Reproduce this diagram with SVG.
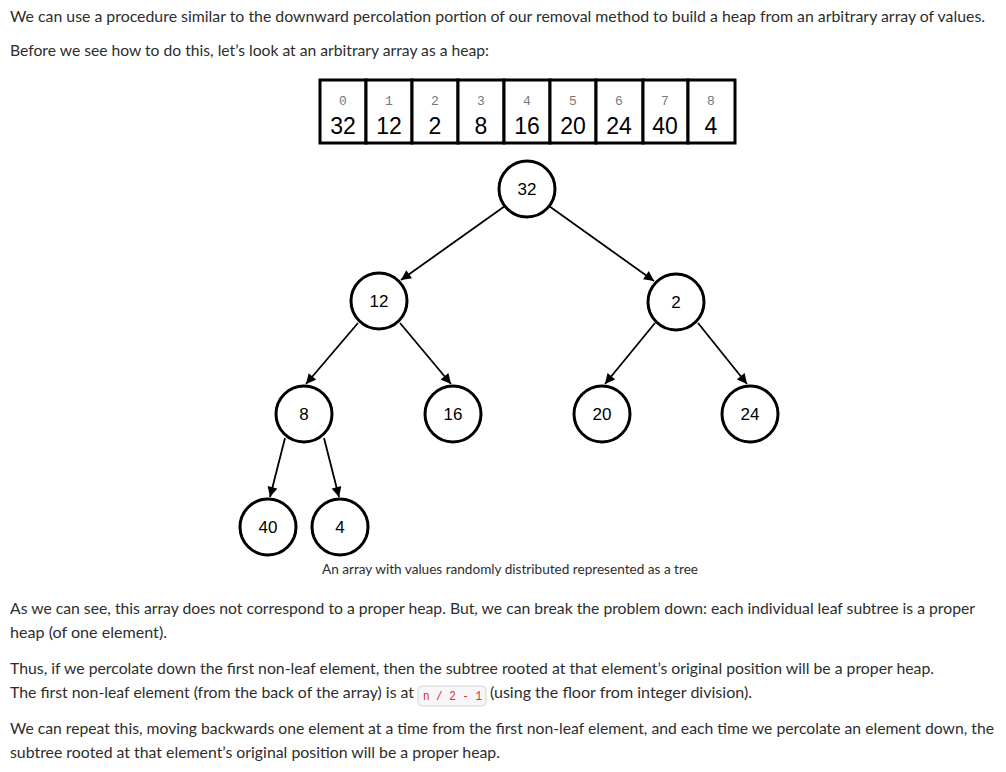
<svg xmlns="http://www.w3.org/2000/svg" width="1006" height="772" viewBox="0 0 1006 772">
  <style>
    .body { font-family: Lato, "Open Sans", sans-serif; font-size: 15.7px; fill: #2d2d2d; }
    .caption { font-family: Lato, "Open Sans", sans-serif; font-size: 13.5px; fill: #2d2d2d; }
    .cell { fill: #fff; stroke: #000; stroke-width: 3; }
    .idx { font-family: "Liberation Mono", monospace; font-size: 13px; fill: #777; text-anchor: middle; }
    .val { font-family: "Liberation Sans", Arial, sans-serif; font-size: 23px; fill: #000; text-anchor: middle; }
    .node circle { fill: #fff; stroke: #000; stroke-width: 3; }
    .node text { font-family: "Liberation Sans", Arial, sans-serif; font-size: 17px; fill: #000; text-anchor: middle; }
    .edge { stroke: #000; stroke-width: 1.8; fill: none; marker-end: url(#arrow); }
    .code-bg { fill: #f7f7f9; stroke: #d4d4d4; stroke-width: 1; }
    .code { font-family: "Liberation Mono", monospace; font-size: 12.5px; fill: #e0262e; }
  </style>
  <defs>
    <marker id="arrow" viewBox="0 0 10 10" refX="10" refY="5" markerWidth="11" markerHeight="10" markerUnits="userSpaceOnUse" orient="auto">
      <path d="M0,0 L10,5 L0,10 z" fill="#000"/>
    </marker>
  </defs>
  <rect width="1006" height="772" fill="#fff"/>

  <!-- intro paragraphs -->
  <text class="body" x="10" y="22" textLength="975" lengthAdjust="spacingAndGlyphs">We can use a procedure similar to the downward percolation portion of our removal method to build a heap from an arbitrary array of values.</text>
  <text class="body" x="10" y="56" textLength="479" lengthAdjust="spacingAndGlyphs">Before we see how to do this, let’s look at an arbitrary array as a heap:</text>

  <!-- array cells -->
  <g id="array">
    <rect class="cell" x="320" y="80" width="46" height="63"/>
    <rect class="cell" x="366" y="80" width="46" height="63"/>
    <rect class="cell" x="412" y="80" width="46" height="63"/>
    <rect class="cell" x="458" y="80" width="46" height="63"/>
    <rect class="cell" x="504" y="80" width="46" height="63"/>
    <rect class="cell" x="550" y="80" width="46" height="63"/>
    <rect class="cell" x="596" y="80" width="47" height="63"/>
    <rect class="cell" x="643" y="80" width="45" height="63"/>
    <rect class="cell" x="688" y="80" width="47" height="63"/>
    <text class="idx" x="343" y="105">0</text>
    <text class="idx" x="389" y="105">1</text>
    <text class="idx" x="435" y="105">2</text>
    <text class="idx" x="481" y="105">3</text>
    <text class="idx" x="527" y="105">4</text>
    <text class="idx" x="573" y="105">5</text>
    <text class="idx" x="619" y="105">6</text>
    <text class="idx" x="665" y="105">7</text>
    <text class="idx" x="711" y="105">8</text>
    <text class="val" x="343" y="134">32</text>
    <text class="val" x="389" y="134">12</text>
    <text class="val" x="435" y="134">2</text>
    <text class="val" x="481" y="134">8</text>
    <text class="val" x="527" y="134">16</text>
    <text class="val" x="573" y="134">20</text>
    <text class="val" x="619" y="134">24</text>
    <text class="val" x="665" y="134">40</text>
    <text class="val" x="711" y="134">4</text>
  </g>

  <!-- tree connectors -->
  <g id="edges">
    <line class="edge" x1="505" y1="206" x2="401" y2="280"/>
    <line class="edge" x1="549" y1="206" x2="654" y2="281"/>
    <line class="edge" x1="358" y1="323" x2="306" y2="384"/>
    <line class="edge" x1="400" y1="323" x2="451" y2="384"/>
    <line class="edge" x1="655" y1="323" x2="605" y2="384"/>
    <line class="edge" x1="698" y1="323" x2="747" y2="384"/>
    <line class="edge" x1="285" y1="438" x2="270" y2="497"/>
    <line class="edge" x1="324" y1="438" x2="339" y2="497"/>
  </g>

  <!-- tree nodes -->
  <g id="n32" class="node"><circle cx="527" cy="189" r="28"/><text x="527" y="195">32</text></g>
  <g id="n12" class="node"><circle cx="379" cy="301" r="28"/><text x="379" y="307">12</text></g>
  <g id="n2" class="node"><circle cx="676" cy="302" r="28"/><text x="676" y="308">2</text></g>
  <g id="n8" class="node"><circle cx="304" cy="414" r="28"/><text x="304" y="420">8</text></g>
  <g id="n16" class="node"><circle cx="453" cy="414" r="28"/><text x="453" y="420">16</text></g>
  <g id="n20" class="node"><circle cx="602" cy="414" r="28"/><text x="602" y="420">20</text></g>
  <g id="n24" class="node"><circle cx="750" cy="414" r="28"/><text x="750" y="420">24</text></g>
  <g id="n40" class="node"><circle cx="268" cy="527" r="28"/><text x="268" y="533">40</text></g>
  <g id="n4" class="node"><circle cx="340" cy="527" r="28"/><text x="340" y="533">4</text></g>

  <text class="caption" x="322" y="574" textLength="376" lengthAdjust="spacingAndGlyphs">An array with values randomly distributed represented as a tree</text>

  <!-- explanation paragraphs -->
  <text class="body" x="10" y="614" textLength="965" lengthAdjust="spacingAndGlyphs">As we can see, this array does not correspond to a proper heap. But, we can break the problem down: each individual leaf subtree is a proper</text>
  <text class="body" x="10" y="638" textLength="157" lengthAdjust="spacingAndGlyphs">heap (of one element).</text>
  <text class="body" x="10" y="674" textLength="924" lengthAdjust="spacingAndGlyphs">Thus, if we percolate down the first non-leaf element, then the subtree rooted at that element’s original position will be a proper heap.</text>
  <text class="body" x="10" y="698" textLength="404" lengthAdjust="spacingAndGlyphs">The first non-leaf element (from the back of the array) is at</text>
  <rect class="code-bg" x="418" y="686" width="68" height="20" rx="4"/>
  <text class="code" x="423" y="700" textLength="59" lengthAdjust="spacingAndGlyphs">n / 2 - 1</text>
  <text class="body" x="490" y="698" textLength="262" lengthAdjust="spacingAndGlyphs">(using the floor from integer division).</text>
  <text class="body" x="10" y="734" textLength="984" lengthAdjust="spacingAndGlyphs">We can repeat this, moving backwards one element at a time from the first non-leaf element, and each time we percolate an element down, the</text>
  <text class="body" x="10" y="758" textLength="490" lengthAdjust="spacingAndGlyphs">subtree rooted at that element’s original position will be a proper heap.</text>
</svg>
